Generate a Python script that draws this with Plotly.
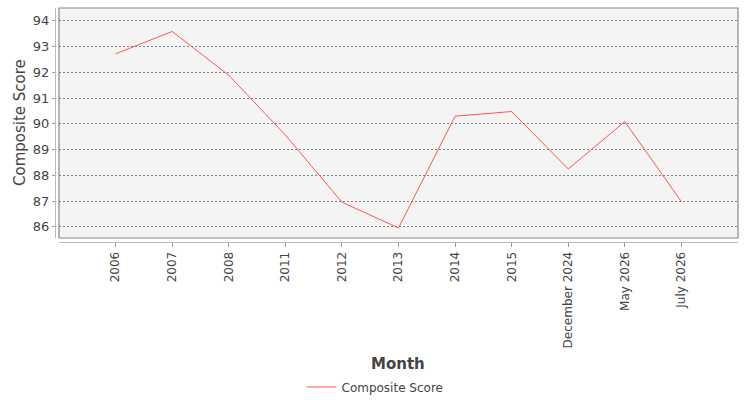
import plotly.graph_objects as go

# data
months = ["2006", "2007", "2008", "2011", "2012", "2013", "2014", "2015",
          "December 2024", "May 2026", "July 2026"]
scores = [92.72, 93.59, 91.89, 89.57, 86.96, 85.96, 90.30, 90.48,
          88.25, 90.09, 86.98]
y_ticks = [86, 87, 88, 89, 90, 91, 92, 93, 94]

FONT = "DejaVu Sans"
TXT = "#444444"

# plot area sits 4px inside the axis lines (axis offset look)
L, R, T, B = 55, 12, 8, 158
PW, PH = 750 - L - R, 400 - T - B
GAP = 4

fig = go.Figure()
fig.add_trace(go.Scatter(
    x=months, y=scores,
    mode="lines",
    line=dict(color="#FF5555", width=1),
    name="Composite Score",
))

fig.update_layout(
    width=750, height=400,
    margin=dict(l=L, r=R, t=T, b=B, autoexpand=False),
    paper_bgcolor="white",
    plot_bgcolor="#F4F4F4",
    font=dict(family=FONT, size=12, color=TXT),
    showlegend=True,
    legend=dict(
        orientation="h",
        x=(375 - L) / PW, xanchor="center",
        y=-(387 - 242) / PH, yanchor="middle",
        font=dict(size=12, color=TXT),
    ),
    xaxis=dict(
        type="category",
        range=[-1, len(months)],
        domain=[GAP / PW, 1],
        anchor="free", position=0,
        tickangle=-90,
        tickfont=dict(size=12, color=TXT),
        ticks="outside", ticklen=4, tickcolor="#999",
        showgrid=False,
        showline=True, linecolor="#BBBBBB", linewidth=1,
        automargin=False,
    ),
    yaxis=dict(
        range=[85.57, 94.5],
        domain=[GAP / PH, 1],
        anchor="free", position=0,
        tickvals=y_ticks,
        tickfont=dict(size=13, color=TXT),
        ticks="outside", ticklen=3, tickcolor="#999",
        showgrid=True, gridcolor="#808080", gridwidth=1, griddash="2px,2px",
        zeroline=False,
        showline=True, linecolor="#BBBBBB", linewidth=1,
        automargin=False,
    ),
    shapes=[dict(
        type="rect", xref="x domain", yref="y domain",
        x0=0, x1=1, y0=0, y1=1,
        line=dict(color="#888888", width=1.2),
        fillcolor="rgba(0,0,0,0)", layer="above",
    )],
    annotations=[
        dict(text="<b>Month</b>", xref="paper", yref="paper",
             x=(398 - L) / PW, y=-(364 - 242) / PH,
             xanchor="center", yanchor="middle",
             showarrow=False, font=dict(size=15, color=TXT)),
        dict(text="Composite Score", xref="paper", yref="paper",
             x=-(L - 20) / PW, y=(242 - 123) / PH,
             xanchor="center", yanchor="middle",
             textangle=-90, showarrow=False, font=dict(size=15, color=TXT)),
    ],
)

# page body margin would otherwise shift the figure by 8px
fig.write_html("out.html", config=dict(displayModeBar=False),
               post_script="document.body.style.margin='0';")
